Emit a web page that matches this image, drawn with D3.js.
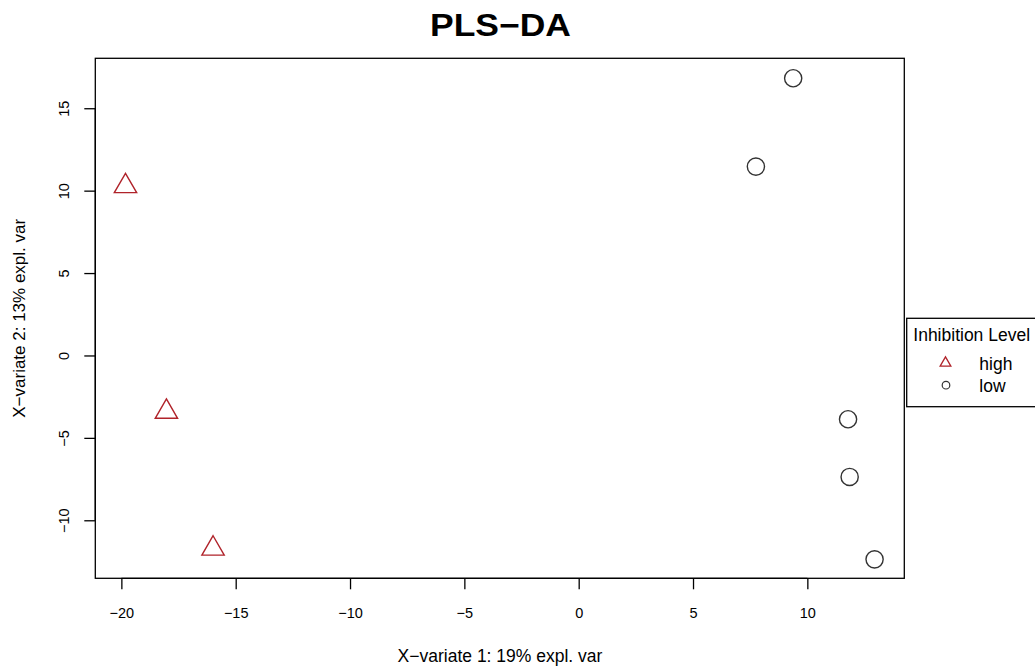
<!DOCTYPE html>
<html lang="en">
<head>
<meta charset="UTF-8">
<title>PLS-DA</title>
<script src="https://cdn.jsdelivr.net/npm/d3@7"></script>
<style>
    body { margin: 0; background: #fff; }
    text { font-family: "Liberation Sans", Arial, Helvetica, sans-serif; }
</style>
</head>
<body>
<script>
    // sample scores
    var groups = ["high", "low"];
    var highX = [-19.82, -18.03, -15.99];
    var highY = [10.27, -3.42, -11.72];
    var lowX = [9.38, 7.75, 11.78, 11.85, 12.94];
    var lowY = [16.82, 11.46, -3.87, -7.37, -12.37];
    var xTicks = [-20, -15, -10, -5, 0, 5, 10];
    var yTicks = [-10, -5, 0, 5, 10, 15];

    var width = 1035, height = 668;
    // plot box (note: "top" is reserved on window, so prefixed names)
    var boxL = 95.3, boxR = 904.3, boxT = 58.3, boxB = 578.3;

    var svg = d3.select("body").append("svg")
        .attr("width", width)
        .attr("height", height);

    var x = d3.scaleLinear().domain([-21.14, 14.24]).range([boxL, boxR]);
    var y = d3.scaleLinear().domain([-13.52, 18.03]).range([boxB, boxT]);

    var colors = { high: "#B0232A", low: "#333333" };

    // title
    svg.append("text")
        .attr("x", 430)
        .attr("y", 36)
        .attr("textLength", 141)
        .attr("lengthAdjust", "spacingAndGlyphs")
        .style("font-size", "31px")
        .style("font-weight", "bold")
        .text("PLS\u2212DA");

    // frame
    svg.append("rect")
        .attr("x", boxL).attr("y", boxT)
        .attr("width", boxR - boxL).attr("height", boxB - boxT)
        .attr("fill", "none").attr("stroke", "#000").attr("stroke-width", 1.3);

    // x axis
    var xAxis = svg.append("g")
        .attr("transform", "translate(0," + boxB + ")")
        .call(d3.axisBottom(x).tickValues(xTicks).tickSize(11));
    xAxis.select(".domain")
        .attr("d", "M" + x(-20) + ",0H" + x(10));
    xAxis.selectAll(".tick text")
        .attr("y", 40).attr("dy", null);

    // y axis
    var yAxis = svg.append("g")
        .attr("transform", "translate(" + boxL + ",0)")
        .call(d3.axisLeft(y).tickValues(yTicks).tickSize(11));
    yAxis.select(".domain")
        .attr("d", "M0," + y(-10) + "V" + y(15));
    yAxis.selectAll(".tick text")
        .attr("x", 0).attr("dy", null)
        .attr("text-anchor", "middle")
        .attr("transform", "translate(-26,0) rotate(-90)");

    svg.selectAll(".tick text").style("font-size", "14.5px").attr("fill", "#000");
    svg.selectAll(".tick line, .domain").attr("stroke", "#000").attr("stroke-width", 1.3);

    // axis labels
    svg.append("text")
        .attr("x", 500)
        .attr("y", 661.7)
        .attr("text-anchor", "middle")
        .style("font-size", "17.5px")
        .text("X\u2212variate 1: 19% expl. var");

    svg.append("text")
        .attr("transform", "translate(25," + ((boxT + boxB) / 2) + ") rotate(-90)")
        .attr("text-anchor", "middle")
        .style("font-size", "17px")
        .text("X\u2212variate 2: 13% expl. var");

    // triangle centred like R's pch 2
    function triangle(cx, cy, s) {
        var xc = s * Math.sqrt(3) / 2, yc = s / 2;
        return "M" + cx + "," + (cy - s) + "L" + (cx + xc) + "," + (cy + yc) +
            "L" + (cx - xc) + "," + (cy + yc) + "Z";
    }

    var highData = highX.map(function (d, i) { return { x: d, y: highY[i] }; });
    var lowData = lowX.map(function (d, i) { return { x: d, y: lowY[i] }; });

    svg.selectAll("path.high")
        .data(highData)
        .enter().append("path")
        .attr("class", "high")
        .attr("d", function (d) { return triangle(x(d.x), y(d.y), 12.9); })
        .attr("fill", "none")
        .attr("stroke", colors.high)
        .attr("stroke-width", 1.4);

    svg.selectAll("circle.low")
        .data(lowData)
        .enter().append("circle")
        .attr("class", "low")
        .attr("cx", function (d) { return x(d.x); })
        .attr("cy", function (d) { return y(d.y); })
        .attr("r", 8.6)
        .attr("fill", "none")
        .attr("stroke", colors.low)
        .attr("stroke-width", 1.4);

    // legend
    var lg = svg.append("g");
    lg.append("rect")
        .attr("x", 906.7).attr("y", 318.3)
        .attr("width", 140).attr("height", 88.4)
        .attr("fill", "#fff").attr("stroke", "#000").attr("stroke-width", 1.3);
    lg.append("text")
        .attr("x", 913.3).attr("y", 341)
        .style("font-size", "17.5px")
        .text("Inhibition Level");

    groups.forEach(function (g, i) {
        var base = 370 + i * 21.7;
        if (g === "high") {
            lg.append("path")
                .attr("d", triangle(945.5, 363, 6.2))
                .attr("fill", "none").attr("stroke", colors.high).attr("stroke-width", 1.3);
        } else {
            lg.append("circle")
                .attr("cx", 946).attr("cy", 385.2)
                .attr("r", 3.8)
                .attr("fill", "none").attr("stroke", colors.low).attr("stroke-width", 1.2);
        }
        lg.append("text")
            .attr("x", 979.3).attr("y", base)
            .style("font-size", "17.5px")
            .text(g);
    });
</script>
</body>
</html>
